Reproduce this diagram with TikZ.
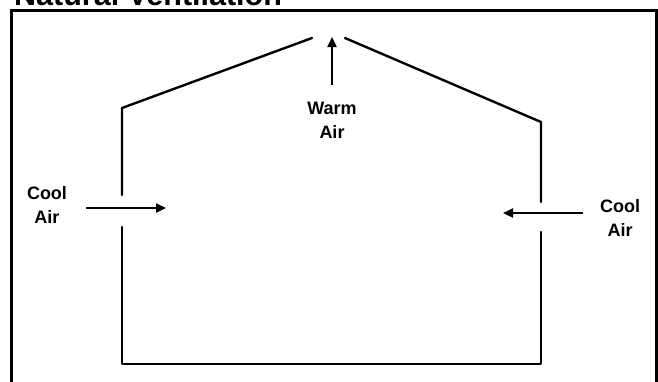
\documentclass[tikz,border=0pt]{standalone}
\usepackage{fontspec}
\setmainfont{Liberation Sans}
\usetikzlibrary{arrows.meta}
\begin{document}
\begin{tikzpicture}[x=1pt,y=-1pt,
  wall/.style={line width=2.4pt,line cap=round,line join=round},
  flow/.style={line width=2.3pt,-{Triangle[length=10pt,width=9pt]}},
  lbl/.style={font=\bfseries\fontsize{18}{24}\selectfont,align=center,inner sep=0pt}]
\useasboundingbox (0,0) rectangle (658,381);
\clip (0,0) rectangle (658,381);
\node[anchor=base west,inner sep=0pt,font=\bfseries\fontsize{30.5}{34}\selectfont] (title) at (14,5) {Natural Ventilation};
\draw[line width=3pt] (11.5,395) -- (11.5,10) -- (656.5,10) -- (656.5,395);
% house
\coordinate (lgt) at (122,195);
\coordinate (lgb) at (122,227);
\coordinate (rgt) at (541,202);
\coordinate (rgb) at (541,232);
\coordinate (lr) at (122,108);
\coordinate (lp) at (312,38);
\coordinate (rp) at (345,38);
\coordinate (rr) at (541,122);
\coordinate (bl) at (122,364);
\coordinate (br) at (541,364);
\draw[wall] (lgt) -- (lr) -- (lp);
\draw[wall] (rp) -- (rr) -- (rgt);
\draw[wall] (lgb) -- (bl) -- (br) -- (rgb);
% arrows
\coordinate (ws) at (332,85);
\coordinate (we) at (332,37);
\draw[flow] (ws) -- (we);
\coordinate (ls) at (86,208);
\coordinate (le) at (166,208);
\draw[flow] (ls) -- (le);
\coordinate (rs) at (583,213);
\coordinate (re) at (503,213);
\draw[flow] (rs) -- (re);
% labels
\node[lbl] (warm) at (332,120) {Warm\\Air};
\node[lbl] (cooll) at (47,205) {Cool\\Air};
\node[lbl] (coolr) at (620,218) {Cool\\Air};
\end{tikzpicture}
\end{document}
